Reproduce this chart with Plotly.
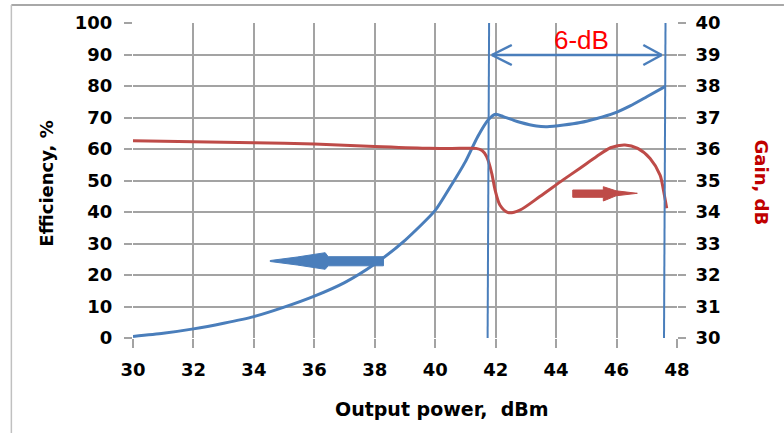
import plotly.graph_objects as go

# ---- data ----
eff_x = [30, 31, 32, 33, 34, 35, 36, 37, 38, 39, 40, 40.5, 41, 41.4, 41.75, 42.0, 42.25, 42.6,
         42.8, 43.35, 43.7, 44.25, 44.8, 45.35, 45.9, 46.45, 47.0, 47.6]
eff_y = [0.5, 1.5, 2.9, 4.7, 6.8, 9.8, 13.3, 17.6, 23.5, 31.0, 40.5, 48.0, 56.0, 63.8, 69.2, 71.0,
         70.3, 69.1, 68.5, 67.3, 67.1, 67.6, 68.4, 69.7, 71.3, 73.7, 76.6, 79.8]

gain_x = [30, 32, 34, 36, 38, 39.8, 40.8, 41.35, 41.55, 41.7, 41.87, 41.98, 42.14, 42.41, 42.8,
          43.46, 44.23, 44.79, 45.34, 45.8, 46.28, 46.7, 47.11, 47.44, 47.55, 47.66]
gain_y = [36.26, 36.23, 36.2, 36.16, 36.08, 36.02, 36.02, 36.02, 35.95, 35.76, 35.23, 34.7, 34.22,
          33.98, 34.06, 34.49, 35.02, 35.39, 35.76, 36.04, 36.13, 36.02, 35.7, 35.17, 34.7, 34.12]

x_ticks = [30, 32, 34, 36, 38, 40, 42, 44, 46, 48]
eff_ticks = [0, 10, 20, 30, 40, 50, 60, 70, 80, 90, 100]
gain_ticks = [30, 31, 32, 33, 34, 35, 36, 37, 38, 39, 40]

BLUE = "#4A7EBB"
RED = "#BE4B48"
GRID = "#a3a3a3"
FONT = "DejaVu Sans"

# pixel helpers for decorations (plot area: x 132.7..677, y 23..338)
L, R, T, B = 132.7, 677.0, 23.0, 338.0
def X(px):
    return 30 + (px - L) / (R - L) * 18
def Y(py):
    return (B - py) / (B - T) * 100
def PX(px):
    return (px - L) / (R - L)
def PY(py):
    return (B - py) / (B - T)

fig = go.Figure()
fig.add_trace(go.Scatter(x=eff_x, y=eff_y, mode="lines", name="Efficiency",
                         line=dict(color=BLUE, width=3, shape="spline", smoothing=0.6),
                         showlegend=False))
fig.add_trace(go.Scatter(x=gain_x, y=gain_y, mode="lines", name="Gain", yaxis="y2",
                         line=dict(color=RED, width=3, shape="spline", smoothing=0.8),
                         showlegend=False))

tickfont = dict(family=FONT, size=18, color="black", weight=700)

shapes = []
# outer frame (top and left edges visible)
shapes.append(dict(type="line", xref="paper", yref="paper", x0=PX(11), x1=PX(784), y0=PY(5), y1=PY(5),
                   line=dict(color="#a8a8a8", width=2)))
shapes.append(dict(type="line", xref="paper", yref="paper", x0=PX(11), x1=PX(11), y0=PY(5), y1=PY(440),
                   line=dict(color="#c0c0c0", width=1.5)))
# blue vertical markers
shapes.append(dict(type="line", xref="x", yref="y", x0=X(489), x1=X(487.5), y0=Y(23), y1=Y(340),
                   line=dict(color=BLUE, width=2)))
shapes.append(dict(type="line", xref="x", yref="y", x0=X(665.5), x1=X(664), y0=Y(23), y1=Y(338),
                   line=dict(color=BLUE, width=2)))
# 6-dB double arrow
shapes.append(dict(type="line", xref="x", yref="y", x0=X(491.7), x1=X(661.7), y0=Y(55), y1=Y(55),
                   line=dict(color=BLUE, width=2.5)))
for (ax, tip) in [(511.7, 491.7), (643.3, 661.7)]:
    for ay in (45, 65):
        shapes.append(dict(type="line", xref="x", yref="y", x0=X(tip), x1=X(ax), y0=Y(55), y1=Y(ay),
                           line=dict(color=BLUE, width=2.5)))

def poly(pts, color):
    path = "M " + " L ".join(f"{X(a):.4f},{Y(b):.4f}" for a, b in pts) + " Z"
    return dict(type="path", xref="x", yref="y", path=path, fillcolor=color,
                line=dict(color=color, width=1))

blue_arrow = [(383.3, 256.7), (328, 256.7), (325, 252.7), (297, 257), (270, 260.5), (270, 261.5),
              (297, 265), (325, 269.3), (328, 265.8), (383.3, 265.8)]
red_arrow = [(572.7, 190), (603.3, 190), (603.3, 186.7), (616, 190.8), (637.3, 193.3), (616, 195.8),
             (603.3, 201), (603.3, 197.3), (572.7, 197.3)]
shapes.append(poly(blue_arrow, BLUE))
shapes.append(poly(red_arrow, RED))

annotations = [
    dict(text="6-dB", xref="x", yref="y", x=X(581.3), y=Y(39.5), showarrow=False,
         font=dict(family="Liberation Sans", size=26, color="#FF0000"), xanchor="center", yanchor="middle"),
    dict(text="Efficiency, %", xref="paper", yref="paper", x=PX(46), y=PY(183.3), showarrow=False,
         textangle=-90, font=dict(family=FONT, size=18, color="black", weight=700),
         xanchor="center", yanchor="middle"),
    dict(text="Gain, dB", xref="paper", yref="paper", x=PX(762.5), y=PY(183), showarrow=False,
         textangle=90, font=dict(family=FONT, size=18, color="#C00000", weight=700),
         xanchor="center", yanchor="middle"),
    dict(text="Output power,  dBm", xref="paper", yref="paper", x=PX(441.7), y=PY(409), showarrow=False,
         font=dict(family=FONT, size=19, color="black", weight=700), xanchor="center", yanchor="middle"),
]

fig.update_layout(
    width=784, height=433,
    margin=dict(l=133, r=107, t=23, b=95, pad=0),
    paper_bgcolor="white", plot_bgcolor="white",
    xaxis=dict(range=[30, 48], tickvals=x_ticks, ticktext=[str(v) for v in x_ticks],
               showgrid=True, gridcolor=GRID, gridwidth=1.5, zeroline=False, showline=False,
               ticks="outside", ticklen=9, tickcolor=GRID, tickwidth=1.5, tickfont=tickfont,
               ticklabelstandoff=6),
    yaxis=dict(range=[0, 100], tickvals=eff_ticks, ticktext=[str(v) for v in eff_ticks],
               showgrid=True, gridcolor=GRID, gridwidth=1.5, zeroline=False, showline=False,
               ticks="outside", ticklen=8, tickcolor=GRID, tickwidth=1.5, tickfont=tickfont,
               ticklabelstandoff=8),
    yaxis2=dict(range=[30, 40], tickvals=gain_ticks, ticktext=[str(v) for v in gain_ticks],
                overlaying="y", side="right", showgrid=False, zeroline=False, showline=False,
                ticks="outside", ticklen=8, tickcolor=GRID, tickwidth=1.5, tickfont=tickfont,
                ticklabelstandoff=6),
    shapes=shapes,
    annotations=annotations,
)

fig.write_html("out.html", config={"displayModeBar": False},
               post_script="document.body.style.margin='0';document.body.style.overflow='hidden';"
                           "window.scrollTo(0,0);")
